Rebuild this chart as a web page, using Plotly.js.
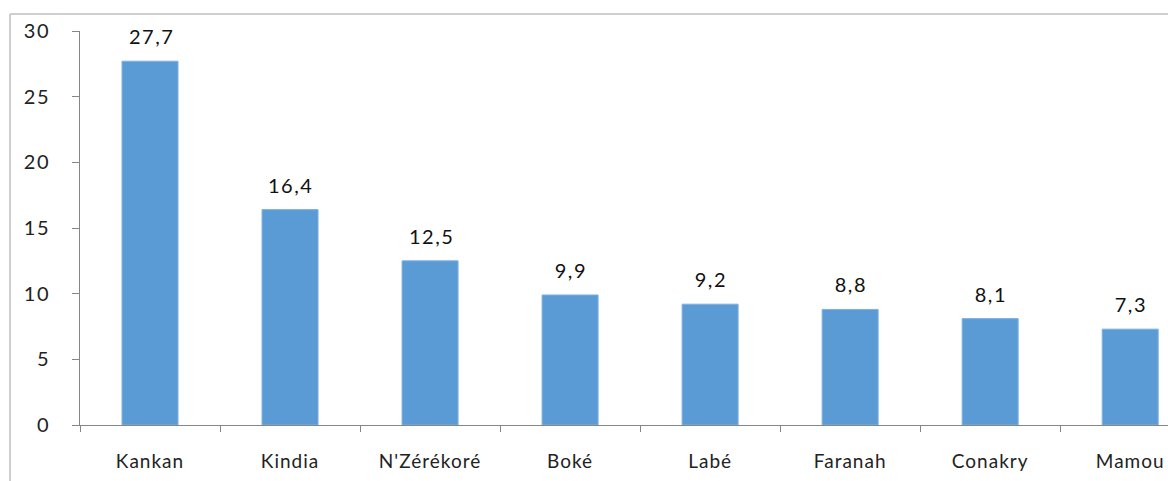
<!DOCTYPE html>
<html>
<head>
<meta charset="utf-8">
<script src="https://cdn.plot.ly/plotly-3.0.1.min.js"></script>
<style>
html,body{margin:0;padding:0;background:#fff;overflow:hidden}
#chart .xtick text{letter-spacing:1px}
#chart .ytick text{letter-spacing:1.5px}
#chart .annotation-text{letter-spacing:1.5px}
</style>
</head>
<body>
<div id="chart" style="width:1168px;height:481px;"></div>
<script>
const regions = ["Kankan", "Kindia", "N'Zérékoré", "Boké", "Labé", "Faranah", "Conakry", "Mamou"];
const values = [27.7, 16.4, 12.5, 9.9, 9.2, 8.8, 8.1, 7.3];
const yTicks = [0, 5, 10, 15, 20, 25, 30];

const FONT = "Lato, 'Open Sans', sans-serif";

const trace = {
  type: 'bar',
  x: regions,
  y: values,
  width: 0.4,
  marker: {color: '#5B9BD5', line: {color: '#7EB1E0', width: 1}},
  hoverinfo: 'skip'
};

const annotations = regions.map((r, i) => ({
  x: r, y: values[i], xref: 'x', yref: 'y',
  text: values[i].toFixed(1).replace('.', ','),
  showarrow: false, yanchor: 'middle', yshift: 25, xshift: 1,
  font: {family: FONT, size: 20, color: '#111111'}
}));

const layout = {
  width: 1168, height: 481,
  margin: {l: 80, r: 0, t: 31, b: 56},
  paper_bgcolor: '#ffffff', plot_bgcolor: '#ffffff',
  showlegend: false,
  bargap: 0.6,
  font: {family: FONT, size: 19, color: '#222222'},
  xaxis: {
    type: 'category',
    range: [-0.5, 7.27],
    showgrid: false,
    showline: true, linecolor: '#868686', linewidth: 1,
    ticks: 'outside', tickson: 'boundaries', ticklen: 6, tickcolor: '#868686',
    tickfont: {family: FONT, size: 19, color: '#222222'},
    ticklabelstandoff: 19,
    zeroline: false,
    fixedrange: true
  },
  yaxis: {
    range: [0, 30],
    tickvals: yTicks,
    ticktext: yTicks.map(String),
    showgrid: false,
    showline: true, linecolor: '#868686', linewidth: 1,
    ticks: 'outside', ticklen: 7, tickcolor: '#868686',
    tickfont: {family: FONT, size: 20, color: '#222222'},
    ticklabelstandoff: 18,
    zeroline: false,
    fixedrange: true
  },
  annotations: annotations,
  shapes: [
    {type: 'line', xref: 'paper', yref: 'paper', x0: -0.0643, x1: 1.1, y0: 1.0431, y1: 1.0431, line: {color: '#BFBFBF', width: 1.5}},
    {type: 'line', xref: 'paper', yref: 'paper', x0: -0.0643, x1: -0.0643, y0: 1.0431, y1: -0.3, line: {color: '#BFBFBF', width: 1.5}}
  ]
};

Plotly.newPlot('chart', [trace], layout, {displayModeBar: false, staticPlot: true});
</script>
</body>
</html>
